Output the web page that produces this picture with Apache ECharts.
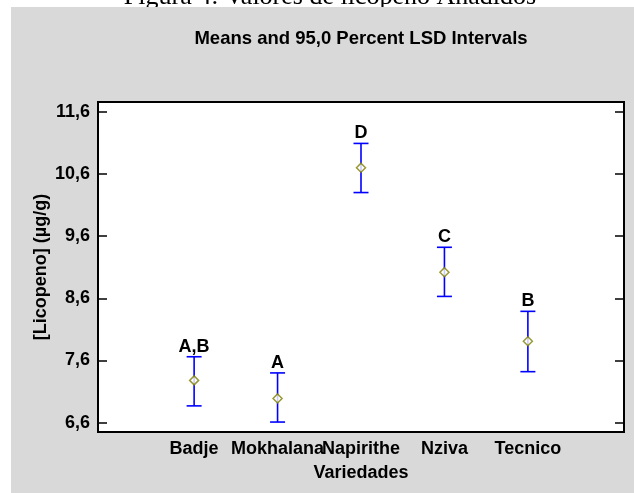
<!DOCTYPE html>
<html>
<head>
<meta charset="utf-8">
<script src="https://cdn.jsdelivr.net/npm/echarts@6/dist/echarts.min.js"></script>
<style>
html,body{margin:0;padding:0;background:#fff;}
#c{width:634px;height:493px;}
</style>
</head>
<body>
<div id="c"></div>
<script>
var categories = ['Badje', 'Mokhalana', 'Napirithe', 'Nziva', 'Tecnico'];
var means = [7.28, 6.99, 10.70, 9.02, 7.91];
var lower = [6.87, 6.61, 10.30, 8.63, 7.42];
var upper = [7.66, 7.40, 11.09, 9.42, 8.39];
var groups = ['A,B', 'A', 'D', 'C', 'B'];
var yTicks = [6.6, 7.6, 8.6, 9.6, 10.6, 11.6];
var xIdx = [0, 1, 2, 3, 4];

var FONT = '"Liberation Sans", Arial, sans-serif';
var chart = echarts.init(document.getElementById('c'), null, {renderer: 'canvas'});

var meanData = means.map(function (m, i) { return [i, m]; });
var barData = lower.map(function (l, i) { return [i, l, upper[i]]; });

function fmt(v) { return v.toFixed(1).replace('.', ','); }

chart.setOption({
  animation: false,
  backgroundColor: '#fff',
  graphic: {
    elements: [
      {type: 'text', z: -20, style: {text: 'Figura 4: Valores de licopeno Añadidos', x: 330, y: 10, textAlign: 'center', textVerticalAlign: 'bottom', font: '26px "Liberation Serif", "Times New Roman", serif', fill: '#000'}},
      {type: 'rect', z: -10, shape: {x: 11, y: 7, width: 623, height: 486}, style: {fill: '#d9d9d9'}},
      {type: 'text', z: 10, style: {text: 'Means and 95,0 Percent LSD Intervals', x: 361, y: 39, textAlign: 'center', textVerticalAlign: 'middle', font: 'bold 18.5px ' + FONT, fill: '#000'}}
    ]
  },
  grid: {
    left: 98, top: 102, right: 10, bottom: 61,
    show: true, backgroundColor: '#fff', borderColor: '#000', borderWidth: 2
  },
  xAxis: {
    type: 'value', min: -1.152, max: 5.152,
    splitLine: {show: false},
    axisLine: {show: false, onZero: false},
    axisTick: {show: false},
    axisLabel: {
      customValues: xIdx,
      formatter: function (v) { return categories[Math.round(v)] || ''; },
      color: '#000', fontWeight: 'bold', fontSize: 18, fontFamily: FONT, margin: 8
    },
    name: 'Variedades', nameLocation: 'middle', nameGap: 32, nameMoveOverlap: false,
    nameTextStyle: {color: '#000', fontWeight: 'bold', fontSize: 18, fontFamily: FONT}
  },
  yAxis: [{
    type: 'value', min: 6.45, max: 11.756,
    splitLine: {show: false},
    axisLine: {show: false, onZero: false},
    axisTick: {show: true, inside: true, length: 9, customValues: yTicks, lineStyle: {color: '#000', width: 1.5}},
    axisLabel: {
      customValues: yTicks, formatter: fmt,
      color: '#000', fontWeight: 'bold', fontSize: 18, fontFamily: FONT, margin: 8
    },
    name: '[Licopeno] (µg/g)', nameLocation: 'middle', nameGap: 48, nameMoveOverlap: false,
    nameTextStyle: {color: '#000', fontWeight: 'bold', fontSize: 18, fontFamily: FONT}
  }, {
    type: 'value', position: 'right', min: 6.45, max: 11.756,
    splitLine: {show: false},
    axisLine: {show: false, onZero: false},
    axisTick: {show: true, inside: true, length: 9, customValues: yTicks, lineStyle: {color: '#000', width: 1.5}},
    axisLabel: {show: false}
  }],
  series: [{
    type: 'custom',
    data: barData,
    z: 3,
    renderItem: function (params, api) {
      var i = api.value(0);
      var lo = api.coord([i, api.value(1)]);
      var hi = api.coord([i, api.value(2)]);
      var hw = 7.5;
      var ls = {stroke: '#0000ff', lineWidth: 1.6};
      return {
        type: 'group',
        children: [
          {type: 'line', shape: {x1: lo[0], y1: lo[1], x2: hi[0], y2: hi[1]}, style: ls},
          {type: 'line', shape: {x1: lo[0] - hw, y1: lo[1], x2: lo[0] + hw, y2: lo[1]}, style: ls},
          {type: 'line', shape: {x1: hi[0] - hw, y1: hi[1], x2: hi[0] + hw, y2: hi[1]}, style: ls},
          {type: 'text', style: {text: groups[params.dataIndex], x: hi[0], y: hi[1] - 1, textAlign: 'center', textVerticalAlign: 'bottom', font: 'bold 18px ' + FONT, fill: '#000'}}
        ]
      };
    }
  }, {
    type: 'scatter',
    data: meanData,
    z: 4,
    symbol: 'diamond',
    symbolSize: [9, 9],
    itemStyle: {color: '#fff', borderColor: '#808000', borderWidth: 1.5}
  }]
});
</script>
</body>
</html>
